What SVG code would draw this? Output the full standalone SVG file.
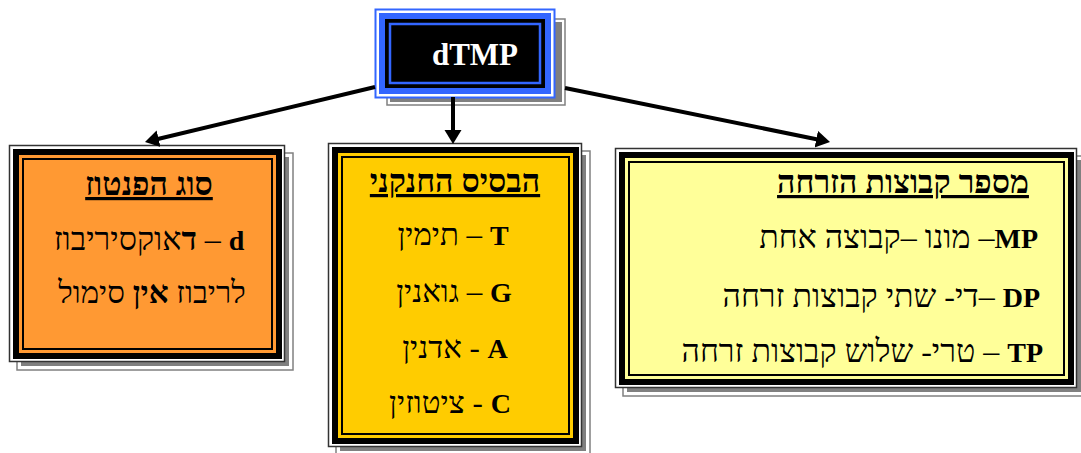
<svg xmlns="http://www.w3.org/2000/svg" width="1081" height="453" viewBox="0 0 1081 453">
<style>
.t{font-family:"Liberation Serif","Times New Roman","DejaVu Serif",serif;font-size:31px;fill:#000}
.r{font-size:32px}
.b{font-weight:bold}
.l{font-weight:bold;font-size:28px}
.ttl{font-weight:bold;text-decoration:underline;font-size:32px}
.sh{fill:#808080}
.shl{fill:none;stroke:#808080;stroke-width:1.5}
.ol{fill:#fff;stroke:#333;stroke-width:1.5}
.band{fill:#000}
.il{fill:none;stroke:#000;stroke-width:2}
.conn{stroke:#000;stroke-width:4;fill:none;marker-end:url(#ah)}
</style>
<defs>
<marker id="ah" markerUnits="userSpaceOnUse" markerWidth="16" markerHeight="18" refX="4" refY="8.5" orient="auto">
<path d="M0,0 L14,8.5 L0,17 z" fill="#000"/>
</marker>
</defs>
<rect width="1081" height="453" fill="#fff"/>

<g id="node-dtmp">
<rect x="387" y="19" width="178" height="86" class="shl"/>
<rect x="390" y="22" width="172" height="80" class="sh"/>
<rect x="375.5" y="9.5" width="179" height="88" fill="#fff" stroke="#3366ff" stroke-width="2"/>
<rect x="379" y="13" width="172" height="81" fill="#3366ff"/>
<rect x="385" y="19" width="160" height="69" fill="#000"/>
<rect x="390" y="24" width="150" height="59" fill="none" stroke="#3366ff" stroke-width="2.5"/>
<text x="475" y="65" text-anchor="middle" class="t b" style="font-size:31px;fill:#fff">dTMP</text>
</g>

<g id="node-pentose">
<rect x="17" y="153" width="276" height="217" class="shl"/>
<rect x="21" y="157" width="268" height="209" class="sh"/>
<rect x="9.5" y="145.5" width="275" height="216" class="ol"/>
<rect x="13" y="149" width="269" height="210" class="band"/>
<rect x="19" y="155" width="257" height="198" fill="#ff9933"/>
<rect x="23" y="159" width="249" height="190" class="il"/>
<text x="149" y="195" text-anchor="middle" class="t ttl">סוג הפנטוז</text>
<text x="149" y="250" text-anchor="middle" direction="rtl" class="t r"><tspan class="l">d</tspan> – <tspan class="b">ד</tspan>אוקסיריבוז</text>
<text x="152" y="303" text-anchor="middle" direction="rtl" class="t">לריבוז <tspan class="b">אין</tspan> סימול</text>
</g>

<g id="node-base">
<rect x="336" y="151" width="254" height="304" class="shl"/>
<rect x="340" y="155" width="246" height="296" class="sh"/>
<rect x="328.5" y="143.5" width="253" height="303" class="ol"/>
<rect x="332" y="147" width="247" height="297" class="band"/>
<rect x="338" y="153" width="235" height="285" fill="#ffcc00"/>
<rect x="342" y="157" width="227" height="277" class="il"/>
<text x="455" y="192" text-anchor="middle" class="t ttl">הבסיס החנקני</text>
<text x="453" y="245" text-anchor="middle" direction="rtl" class="t"><tspan class="l">T</tspan> – תימין</text>
<text x="454" y="302" text-anchor="middle" direction="rtl" class="t"><tspan class="l">G</tspan> – גואנין</text>
<text x="455" y="358" text-anchor="middle" direction="rtl" class="t"><tspan class="l">A</tspan> - אדנין</text>
<text x="450" y="413" text-anchor="middle" direction="rtl" class="t"><tspan class="l">C</tspan> - ציטוזין</text>
</g>

<g id="node-phosphate">
<rect x="623" y="156" width="462" height="240" class="shl"/>
<rect x="627" y="160" width="454" height="232" class="sh"/>
<rect x="615.5" y="148.5" width="461" height="239" class="ol"/>
<rect x="619" y="152" width="455" height="233" class="band"/>
<rect x="625" y="158" width="443" height="221" fill="#ffff99"/>
<rect x="629" y="162" width="435" height="213" class="il"/>
<text x="903" y="193" text-anchor="middle" class="t ttl">מספר קבוצות הזרחה</text>
<text x="1038" y="248" text-anchor="start" direction="rtl" class="t r"><tspan class="l">MP</tspan>– מונו –קבוצה אחת</text>
<text x="1040" y="307" text-anchor="start" direction="rtl" class="t r"><tspan class="l">DP</tspan> –די- שתי קבוצות זרחה</text>
<text x="1043" y="362" text-anchor="start" direction="rtl" class="t r"><tspan class="l">TP</tspan> – טרי- שלוש קבוצות זרחה</text>
</g>

<g id="connectors">
<line x1="375" y1="87" x2="154.7" y2="139.7" class="conn"/>
<line x1="453" y1="97" x2="453" y2="134" class="conn"/>
<line x1="565" y1="88" x2="820.2" y2="140" class="conn"/>
</g>
</svg>
